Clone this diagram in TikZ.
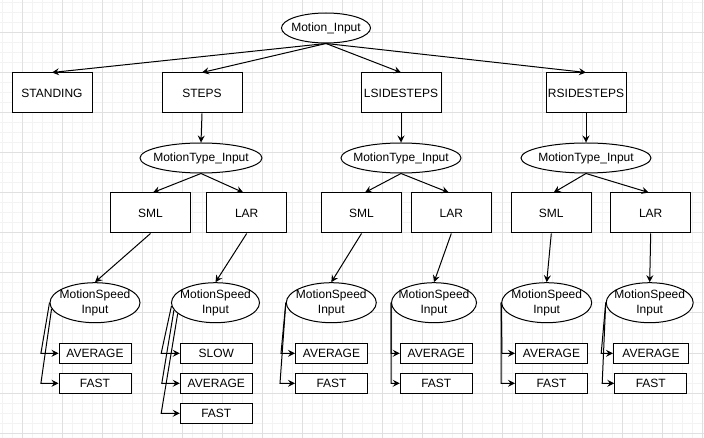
\documentclass[tikz,border=0pt]{standalone}
\usepackage{fontspec}
\setmainfont{Liberation Sans}
\usetikzlibrary{shapes.geometric,arrows.meta}
\definecolor{gmajor}{HTML}{E0E0E0}
\definecolor{gminor}{HTML}{F3F3F3}
\begin{document}
\begin{tikzpicture}[x=1pt,y=-1pt,
  every node/.style={font=\fontsize{12}{14.5}\selectfont, inner sep=0pt},
  box/.style={draw, line width=1pt, fill=white, minimum width=80pt, minimum height=40pt},
  oval/.style={draw, ellipse, line width=1pt, fill=white, minimum height=30pt},
  speed/.style={draw, ellipse, line width=1pt, fill=white, minimum height=40pt},
  leaf/.style={draw, line width=1pt, fill=white, minimum width=72pt, minimum height=20pt},
  arr/.style={draw, line width=1pt, -{Stealth[length=7pt,width=7pt,inset=2.5pt]}},
  ltxt/.style={align=center}
]
\useasboundingbox (0,0) rectangle (704,438);
\fill[white] (0,0) rectangle (704,438);
% grid
\foreach \x in {2,12,...,702} \draw[gminor, line width=1pt] (\x,0) -- (\x,438);
\foreach \y in {3,13,...,433} \draw[gminor, line width=1pt] (0,\y) -- (704,\y);
\foreach \x in {22,62,...,702} \draw[gmajor, line width=1pt] (\x,0) -- (\x,438);
\foreach \y in {33,73,...,433} \draw[gmajor, line width=1pt] (0,\y) -- (704,\y);

% level 0
\node[oval, minimum width=89pt, label=center:Motion\_Input] (mi) at (326,28) {};
% level 1
\node[box] (standing) at (52,93) {STANDING};
\node[box] (steps) at (202,93) {STEPS};
\node[box] (lside) at (401,93) {LSIDESTEPS};
\node[box] (rside) at (586,93) {RSIDESTEPS};
% motion type
\node[oval, minimum width=122pt, label=center:MotionType\_Input] (mt1) at (201,158) {};
\node[oval, minimum width=120pt, label=center:MotionType\_Input] (mt2) at (401,158) {};
\node[oval, minimum width=130pt, label=center:MotionType\_Input] (mt3) at (586,158) {};
% SML / LAR
\node[box] (sml1) at (150.5,213) {SML};
\node[box] (lar1) at (246.7,213) {LAR};
\node[box] (sml2) at (361.5,213) {SML};
\node[box] (lar2) at (451.3,213) {LAR};
\node[box] (sml3) at (551.3,213) {SML};
\node[box] (lar3) at (650.7,213) {LAR};
% motion speed
\node[speed, minimum width=90pt, label={[ltxt]center:MotionSpeed\\Input}] (ms1) at (95,302.7) {};
\node[speed, minimum width=88pt, label={[ltxt]center:MotionSpeed\\Input}] (ms2) at (215.5,302.7) {};
\node[speed, minimum width=90pt, label={[ltxt]center:MotionSpeed\\Input}] (ms3) at (331.3,302.7) {};
\node[speed, minimum width=85pt, label={[ltxt]center:MotionSpeed\\Input}] (ms4) at (434,302.7) {};
\node[speed, minimum width=90pt, label={[ltxt]center:MotionSpeed\\Input}] (ms5) at (546.7,302.7) {};
\node[speed, minimum width=87pt, label={[ltxt]center:MotionSpeed\\Input}] (ms6) at (649.7,302.7) {};
% leaves
\node[leaf] (a1) at (95,353.3) {AVERAGE};
\node[leaf] (f1) at (95,383.3) {FAST};
\node[leaf] (s2) at (216.3,353.3) {SLOW};
\node[leaf] (a2) at (216.3,383.3) {AVERAGE};
\node[leaf] (f2) at (216.3,413.3) {FAST};
\node[leaf] (a3) at (331.5,353.3) {AVERAGE};
\node[leaf] (f3) at (331.5,383.3) {FAST};
\node[leaf] (a4) at (436.3,353.3) {AVERAGE};
\node[leaf] (f4) at (436.3,383.3) {FAST};
\node[leaf] (a5) at (551.5,353.3) {AVERAGE};
\node[leaf] (f5) at (551.5,383.3) {FAST};
\node[leaf, minimum width=75pt] (a6) at (651,353.3) {AVERAGE};
\node[leaf] (f6) at (650.8,383.3) {FAST};

% edges top
\draw[arr] (mi.south) -- (standing.north);
\draw[arr] (mi.south) -- (steps.north);
\draw[arr] (mi.south) -- (lside.north);
\draw[arr] (mi.south) -- (rside.north);
\draw[arr] (steps.south) -- (mt1.north);
\draw[arr] (lside.south) -- (mt2.north);
\draw[arr] (rside.south) -- (mt3.north);
\draw[arr] (mt1.south) -- ([xshift=2.5pt]sml1.north);
\draw[arr] (mt1.south) -- ([xshift=-3.5pt]lar1.north);
\draw[arr] (mt2.south) -- ([xshift=3.5pt]sml2.north);
\draw[arr] (mt2.south) -- ([xshift=-2.6pt]lar2.north);
\draw[arr] (mt3.south) -- ([xshift=2.4pt]sml3.north);
\draw[arr] (mt3.south) -- ([xshift=-2pt]lar3.north);
\draw[arr] (sml1.south) -- (ms1.north);
\draw[arr] (lar1.south) -- (ms2.north);
\draw[arr] (sml2.south) -- (ms3.north);
\draw[arr] (lar2.south) -- (ms4.north);
\draw[arr] (sml3.south) -- (ms5.north);
\draw[arr] (lar3.south) -- (ms6.north);
% edges to leaves
\draw[arr] (ms1.west) -- ([xshift=-17.6pt]a1.west) -- (a1.west);
\draw[arr] (ms1.188) -- ([xshift=-17.6pt]f1.west) -- (f1.west);
\draw[arr] (ms2.184) -- ([xshift=-18.6pt]s2.west) -- (s2.west);
\draw[arr] (ms2.190) -- ([xshift=-18pt]a2.west) -- (a2.west);
\draw[arr] (ms2.196) -- ([xshift=-18.6pt]f2.west) -- (f2.west);
\draw[arr] (ms3.west) -- ([xshift=-14pt]a3.west) -- (a3.west);
\draw[arr] (ms3.west) -- ([xshift=-15pt]f3.west) -- (f3.west);
\draw[arr] (ms4.west) -- ([xshift=-8.6pt]a4.west) -- (a4.west);
\draw[arr] (ms4.west) -- ([xshift=-8.6pt]f4.west) -- (f4.west);
\draw[arr] (ms5.west) -- ([xshift=-13pt]a5.west) -- (a5.west);
\draw[arr] (ms5.west) -- ([xshift=-14pt]f5.west) -- (f5.west);
\draw[arr] (ms6.west) -- ([xshift=-11.8pt]a6.west) -- (a6.west);
\draw[arr] (ms6.west) -- ([xshift=-12.1pt]f6.west) -- (f6.west);
\end{tikzpicture}
\end{document}
